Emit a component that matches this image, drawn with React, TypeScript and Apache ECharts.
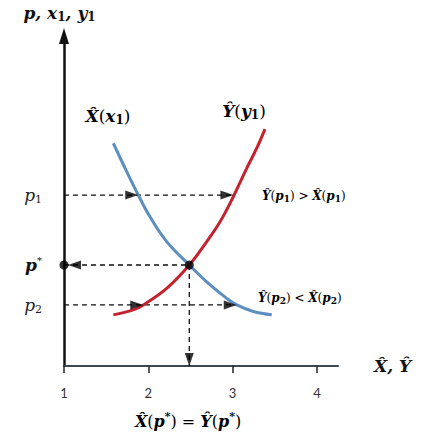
import React, { useEffect, useRef } from "react";
import * as echarts from "echarts";

// ---- data ----
const xTicks = [1, 2, 3, 4];

// X̂(x1): falling curve
const xHatCurve: [number, number][] = [
  [1.585, 6.75],
  [1.744, 5.89],
  [1.881, 5.18],
  [2.02, 4.52],
  [2.218, 3.77],
  [2.486, 3.06],
  [2.693, 2.55],
  [2.93, 2.05],
  [3.049, 1.85],
  [3.246, 1.65],
  [3.464, 1.55],
];

// Ŷ(y1): rising curve
const yHatCurve: [number, number][] = [
  [1.585, 1.55],
  [1.822, 1.7],
  [1.941, 1.85],
  [2.218, 2.35],
  [2.486, 3.06],
  [2.693, 3.77],
  [2.851, 4.37],
  [3.008, 5.13],
  [3.167, 5.99],
  [3.286, 6.6],
  [3.384, 7.18],
];

const p1 = 5.18;
const pStar = 3.06;
const p2 = 1.85;
const xStar = 2.486;
const xHatAtP1 = 1.881;
const yHatAtP1 = 3.01;
const yHatAtP2 = 1.941;
const xHatAtP2 = 3.049;

const priceTicks = [p2, pStar, p1];
const priceTickLabels = ["{i|p}{is|2}", "{b|p}{bs|*}", "{i|p}{is|1}"];

const SERIF = "'DejaVu Serif', 'Liberation Serif', serif";

const richSet = (main: number, sub: number, lh: number, color = "#1e1e1e") => ({
  m: {
    fontFamily: SERIF,
    fontSize: main,
    fontWeight: "bold",
    fontStyle: "italic",
    color,
    lineHeight: lh,
    verticalAlign: "middle",
  },
  u: {
    fontFamily: SERIF,
    fontSize: main,
    color,
    lineHeight: lh,
    verticalAlign: "middle",
  },
  s: {
    fontFamily: SERIF,
    fontSize: sub,
    fontWeight: "bold",
    color,
    lineHeight: Math.round(lh * 0.3),
    verticalAlign: "bottom",
  },
  t: {
    fontFamily: SERIF,
    fontSize: sub,
    fontWeight: "bold",
    color,
    lineHeight: Math.round(lh * 0.4),
    verticalAlign: "top",
  },
});

export default function App() {
  const ref = useRef<HTMLDivElement>(null);

  useEffect(() => {
    if (!ref.current) return;
    const chart = echarts.init(ref.current, undefined, { renderer: "svg" });

    const dashed = (data: [number, number][]) => ({
      type: "line",
      data,
      symbol: "none",
      silent: true,
      z: 1,
      lineStyle: { color: "#111", width: 1.3, type: [5, 4] },
    });

    const arrow = (x: number, y: number, rot: number, off: [number, number]) => ({
      value: [x, y],
      symbolRotate: rot,
      symbolOffset: off,
    });

    const textEl = (x: number, y: number, text: string, align: string, main: number, sub: number, lh: number) => ({
      type: "text",
      x,
      y,
      style: {
        text,
        align,
        verticalAlign: "middle",
        rich: richSet(main, sub, lh),
      },
    });

    const option: any = {
      animation: false,
      backgroundColor: "#ffffff",
      grid: { left: 64, right: 84, top: 36, bottom: 71 },
      xAxis: {
        type: "value",
        min: 1,
        max: 4.25,
        interval: 1,
        name: "X\u0302, Ŷ",
        nameLocation: "end",
        nameGap: 36,
        nameTextStyle: {
          fontFamily: SERIF,
          fontSize: 17,
          fontWeight: "bold",
          fontStyle: "italic",
          color: "#111",
        },
        splitLine: { show: false },
        axisLine: { show: true, lineStyle: { color: "#3d4752", width: 2 } },
        axisTick: {
          show: true,
          customValues: xTicks,
          length: 7,
          lineStyle: { color: "#222", width: 1.5 },
        },
        axisLabel: {
          customValues: xTicks,
          margin: 20,
          fontFamily: "Lato, 'Open Sans', sans-serif",
          fontSize: 13,
          color: "#333",
        },
      },
      yAxis: {
        type: "value",
        min: 0,
        max: 10,
        name: "{m|p, x}{s|1}{m|, y}{s|1}",
        nameLocation: "end",
        nameGap: 13,
        nameTextStyle: {
          padding: [0, 9, 0, 0],
          rich: richSet(17, 12, 20, "#111"),
        },
        splitLine: { show: false },
        axisTick: { show: false },
        axisLine: {
          show: true,
          symbol: ["none", "triangle"],
          symbolSize: [10, 16],
          lineStyle: { color: "#111", width: 2.5 },
        },
        axisLabel: {
          customValues: priceTicks,
          margin: 22,
          formatter: (v: number) => {
            let best = 0;
            priceTicks.forEach((t, i) => {
              if (Math.abs(t - v) < Math.abs(priceTicks[best] - v)) best = i;
            });
            return priceTickLabels[best];
          },
          rich: {
            i: {
              fontFamily: SERIF,
              fontStyle: "italic",
              fontSize: 17,
              color: "#222",
              lineHeight: 20,
              verticalAlign: "middle",
            },
            is: {
              fontFamily: SERIF,
              fontSize: 11,
              color: "#222",
              lineHeight: 6,
              verticalAlign: "bottom",
            },
            b: {
              fontFamily: SERIF,
              fontStyle: "italic",
              fontWeight: "bold",
              fontSize: 17,
              color: "#111",
              lineHeight: 20,
              verticalAlign: "middle",
            },
            bs: {
              fontFamily: SERIF,
              fontSize: 10,
              color: "#111",
              lineHeight: 8,
              verticalAlign: "top",
            },
          },
        },
      },
      series: [
        dashed([
          [1, p1],
          [yHatAtP1, p1],
        ]),
        dashed([
          [1, p2],
          [xHatAtP2, p2],
        ]),
        dashed([
          [1, pStar],
          [xStar, pStar],
        ]),
        dashed([
          [xStar, pStar],
          [xStar, 0],
        ]),
        {
          type: "line",
          data: xHatCurve,
          smooth: 0.4,
          symbol: "none",
          z: 3,
          lineStyle: { color: "#5c8fc0", width: 3 },
        },
        {
          type: "line",
          data: yHatCurve,
          smooth: 0.4,
          symbol: "none",
          z: 3,
          lineStyle: { color: "#c4222f", width: 3 },
        },
        {
          type: "scatter",
          symbol: "triangle",
          symbolSize: [9, 13],
          z: 5,
          itemStyle: { color: "#000" },
          data: [
            arrow(xHatAtP1, p1, -90, [-6.5, 0]),
            arrow(yHatAtP1, p1, -90, [-6.5, 0]),
            arrow(yHatAtP2, p2, -90, [-6.5, 0]),
            arrow(xHatAtP2, p2, -90, [-6.5, 0]),
            arrow(1, pStar, 90, [10.5, 0]),
            arrow(xStar, 0, 180, [0, -6.5]),
          ],
        },
        {
          type: "scatter",
          symbol: "circle",
          symbolSize: 9,
          z: 6,
          itemStyle: { color: "#000" },
          data: [
            [1, pStar],
            [xStar, pStar],
          ],
        },
      ],
      graphic: [
        textEl(108, 116, "{m|X\u0302}{u|(}{m|x}{s|1}{u|)}", "center", 17, 12, 20),
        textEl(244, 111, "{m|Ŷ}{u|(}{m|y}{s|1}{u|)}", "center", 17, 12, 20),
        textEl(262, 196, "{m|Ŷ}{u|(}{m|p}{s|1}{u|) > }{m|X\u0302}{u|(}{m|p}{s|1}{u|)}", "left", 12, 9, 15),
        textEl(258, 298, "{m|Ŷ}{u|(}{m|p}{s|2}{u|) < }{m|X\u0302}{u|(}{m|p}{s|2}{u|)}", "left", 12, 9, 15),
        textEl(188, 421, "{m|X\u0302}{u|(}{m|p}{t|*}{u|) = }{m|Ŷ}{u|(}{m|p}{t|*}{u|)}", "center", 16, 11, 20),
      ],
    };

    chart.setOption(option);
    return () => chart.dispose();
  }, []);

  return (
    <div
      ref={ref}
      style={{ position: "fixed", left: 0, top: 0, width: 422, height: 437, background: "#fff" }}
    />
  );
}
